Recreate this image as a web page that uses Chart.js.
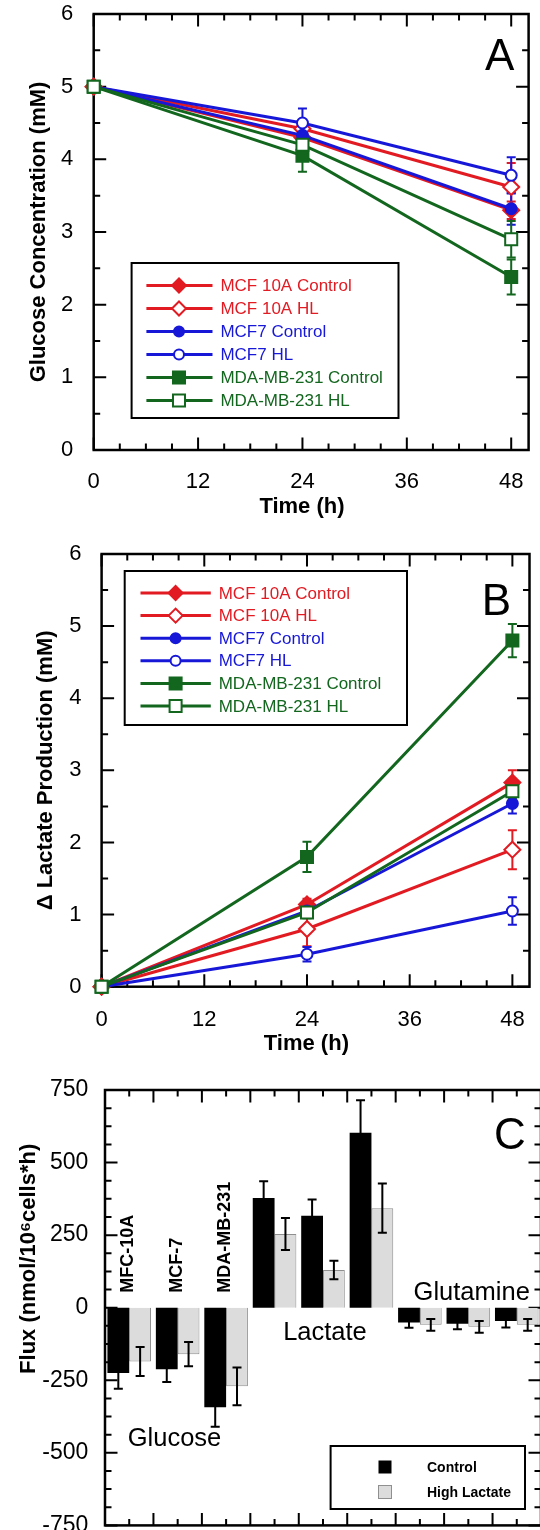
<!DOCTYPE html>
<html>
<head>
<meta charset="utf-8">
<title>Glucose, lactate and flux</title>
<script src="https://cdn.jsdelivr.net/npm/chart.js@4.4.1/dist/chart.umd.min.js"></script>
<style>
  html, body { margin: 0; padding: 0; background: #fff; overflow: hidden; width: 540px; height: 1530px; }
  canvas { position: absolute; left: 0; }
</style>
</head>
<body>
<canvas id="glucoseChart" width="540" height="520" style="top:0"></canvas>
<canvas id="lactateChart" width="540" height="540" style="top:520px"></canvas>
<canvas id="fluxChart" width="546" height="480" style="top:1060px"></canvas>
<script>
// time course shared by panels A and B
const timeHours = [0, 24, 48];
const timeTicks = [0, 12, 24, 36, 48];
const timeTickLabels = ["0", "12", "24", "36", "48"];
const seriesLabels = ["MCF 10A Control", "MCF 10A HL", "MCF7 Control", "MCF7 HL", "MDA-MB-231 Control", "MDA-MB-231 HL"];

// A: glucose concentration (mM)
const glucoseTicks = [0, 1, 2, 3, 4, 5, 6];
const glucoseTickLabels = ["0", "1", "2", "3", "4", "5", "6"];
const glucoseMcf10aControl = [5, 4.30, 3.30];
const glucoseMcf10aHL = [5, 4.42, 3.62];
const glucoseMcf7Control = [5, 4.33, 3.32];
const glucoseMcf7HL = [5, 4.50, 3.78];
const glucoseMdaControl = [5, 4.05, 2.38];
const glucoseMdaHL = [5, 4.20, 2.90];
const glucoseMcf10aControlErr = [0, 0.08, 0.12];
const glucoseMcf10aHLErr = [0, 0.12, 0.33];
const glucoseMcf7ControlErr = [0, 0.08, 0.22];
const glucoseMcf7HLErr = [0, 0.2, 0.25];
const glucoseMdaControlErr = [0, 0.22, 0.24];
const glucoseMdaHLErr = [0, 0.1, 0.25];

// B: delta lactate production (mM)
const lactateTicks = [0, 1, 2, 3, 4, 5, 6];
const lactateTickLabels = ["0", "1", "2", "3", "4", "5", "6"];
const lactateMcf10aControl = [0, 1.14, 2.83];
const lactateMcf10aHL = [0, 0.80, 1.90];
const lactateMcf7Control = [0, 1.05, 2.54];
const lactateMcf7HL = [0, 0.45, 1.05];
const lactateMdaControl = [0, 1.80, 4.80];
const lactateMdaHL = [0, 1.03, 2.71];
const lactateMcf10aControlErr = [0, 0.08, 0.17];
const lactateMcf10aHLErr = [0, 0.24, 0.27];
const lactateMcf7ControlErr = [0, 0.08, 0.14];
const lactateMcf7HLErr = [0, 0.1, 0.19];
const lactateMdaControlErr = [0, 0.21, 0.23];
const lactateMdaHLErr = [0, 0.08, 0.1];

// C: flux (nmol/10^6 cells*h)
const cellLines = ["MFC-10A", "MCF-7", "MDA-MB-231"];
const metabolites = ["Glucose", "Lactate", "Glutamine"];
const fluxCategories = ["Glucose MFC-10A", "Glucose MCF-7", "Glucose MDA-MB-231",
  "Lactate MFC-10A", "Lactate MCF-7", "Lactate MDA-MB-231",
  "Glutamine MFC-10A", "Glutamine MCF-7", "Glutamine MDA-MB-231"];
const fluxTicks = [-750, -500, -250, 0, 250, 500, 750];
const fluxTickLabels = ["-750", "-500", "-250", "0", "250", "500", "750"];
const fluxControl = [-225, -212, -343, 378, 317, 603, -51, -55, -46];
const fluxControlErr = [54, 44, 67, 58, 56, 112, 18, 19, 22];
const fluxHighLactate = [-185, -160, -271, 254, 130, 343, -59, -66, -59];
const fluxHighLactateErr = [50, 42, 65, 55, 32, 85, 20, 20, 20];
const fluxLegend = ["Control", "High Lactate"];

// styles
const RED = "#e21a22", BLUE = "#1717d8", GREEN = "#12661e";
const seriesColors = [RED, RED, BLUE, BLUE, GREEN, GREEN];
const seriesShapes = ["rectRot", "rectRot", "circle", "circle", "rect", "rect"];
const seriesFilled = [true, false, true, false, true, false];
const seriesRadius = [8, 8, 5.5, 5.5, 8.5, 8.5];
const legendRadius = [7, 7, 5, 5, 8.5, 8.5];

Chart.defaults.font.family = '"Liberation Sans", Arial, Helvetica, sans-serif';
Chart.defaults.color = "#000";
Chart.defaults.animation = false;
Chart.defaults.responsive = false;
Chart.defaults.plugins.legend.display = false;
Chart.defaults.plugins.tooltip.enabled = false;

const NB = "\u00a0";

function range(from, to, step) {
  const out = [];
  for (let v = from; v <= to + 1e-9; v += step) out.push(v);
  return out;
}

// fixed axis size, and no extra room for the end labels
function pinSize(s, key, size) {
  s[key] = size;
  s.paddingTop = s.paddingBottom = s.paddingLeft = s.paddingRight = 0;
}

function drawMarker(ctx, shape, x, y, r, color, filled) {
  ctx.beginPath();
  if (shape === "rectRot") {
    ctx.moveTo(x - r, y); ctx.lineTo(x, y - r); ctx.lineTo(x + r, y); ctx.lineTo(x, y + r); ctx.closePath();
  } else if (shape === "circle") {
    ctx.arc(x, y, r, 0, Math.PI * 2);
  } else {
    const h = r * Math.SQRT1_2;
    ctx.rect(x - h, y - h, 2 * h, 2 * h);
  }
  ctx.fillStyle = filled ? color : "#fff";
  ctx.fill();
  ctx.lineWidth = 2;
  ctx.strokeStyle = color;
  ctx.stroke();
}

// box round the plot with inward ticks on all four sides
function frameTicks(t) {
  return {
    id: "frameTicks",
    beforeDatasetsDraw(chart) {
      const { ctx, chartArea: a, scales: { x, y } } = chart;
      const right = t.right || a.right;
      ctx.save();
      ctx.strokeStyle = "#000";
      ctx.lineWidth = 2;
      ctx.beginPath();
      const xt = (v, len) => {
        const px = x.getPixelForValue(v);
        ctx.moveTo(px, a.bottom); ctx.lineTo(px, a.bottom - len);
        ctx.moveTo(px, a.top); ctx.lineTo(px, a.top + len);
      };
      const yt = (v, len) => {
        const py = y.getPixelForValue(v);
        ctx.moveTo(a.left, py); ctx.lineTo(a.left + len, py);
        ctx.moveTo(right, py); ctx.lineTo(right - len, py);
      };
      t.xMinor.forEach(v => xt(v, 6.5));
      t.xMajor.forEach(v => xt(v, 12.5));
      t.yMinor.forEach(v => yt(v, 6.5));
      t.yMajor.forEach(v => yt(v, 12.5));
      ctx.stroke();
      ctx.lineWidth = 2.5;
      ctx.strokeRect(a.left, a.top, right - a.left, a.bottom - a.top);
      ctx.restore();
    }
  };
}

function errorBars(onTop) {
  const draw = chart => {
    const { ctx, scales: { y } } = chart;
    ctx.save();
    ctx.lineWidth = 2;
    chart.data.datasets.forEach((ds, i) => {
      const meta = chart.getDatasetMeta(i);
      ctx.strokeStyle = ds.errorColor;
      ctx.beginPath();
      meta.data.forEach((el, j) => {
        const e = ds.errors[j];
        if (!e) return;
        const d = ds.data[j];
        const v = typeof d === "object" ? d.y : d;
        const top = y.getPixelForValue(v + e), bot = y.getPixelForValue(v - e);
        ctx.moveTo(el.x, top); ctx.lineTo(el.x, bot);
        ctx.moveTo(el.x - 4.5, top); ctx.lineTo(el.x + 4.5, top);
        ctx.moveTo(el.x - 4.5, bot); ctx.lineTo(el.x + 4.5, bot);
      });
      ctx.stroke();
    });
    ctx.restore();
  };
  return onTop ? { id: "errorBars", afterDatasetsDraw: draw } : { id: "errorBars", beforeDatasetsDraw: draw };
}

function panelLetter(letter, dx, dy) {
  return {
    id: "panelLetter",
    afterDraw(chart) {
      const { ctx, chartArea: a } = chart;
      ctx.save();
      ctx.font = '44px "Liberation Sans", Arial, sans-serif';
      ctx.fillStyle = "#000";
      ctx.textAlign = "center";
      ctx.textBaseline = "middle";
      ctx.fillText(letter, a.right + dx, a.top + dy);
      ctx.restore();
    }
  };
}

function lineLegend(b) {
  return {
    id: "lineLegend",
    afterDatasetsDraw(chart) {
      const ctx = chart.ctx;
      ctx.save();
      ctx.fillStyle = "#fff";
      ctx.fillRect(b.left, b.top, b.right - b.left, b.bottom - b.top);
      ctx.strokeStyle = "#000";
      ctx.lineWidth = 2;
      ctx.strokeRect(b.left, b.top, b.right - b.left, b.bottom - b.top);
      ctx.font = '17px "Liberation Sans", Arial, sans-serif';
      ctx.textBaseline = "middle";
      seriesLabels.forEach((label, i) => {
        const yy = b.row0 + i * b.gap;
        ctx.strokeStyle = seriesColors[i];
        ctx.lineWidth = 3;
        ctx.beginPath(); ctx.moveTo(b.x1, yy); ctx.lineTo(b.x2, yy); ctx.stroke();
        drawMarker(ctx, seriesShapes[i], b.mx, yy, legendRadius[i], seriesColors[i], seriesFilled[i]);
        ctx.fillStyle = seriesColors[i];
        ctx.fillText(label, b.tx, yy + 1);
      });
      ctx.restore();
    }
  };
}

function timeDatasets(valueLists, errLists) {
  return valueLists.map((vals, i) => ({
    label: seriesLabels[i],
    data: timeHours.map((t, j) => ({ x: t, y: vals[j] })),
    errors: errLists[i],
    errorColor: seriesColors[i],
    borderColor: seriesColors[i],
    borderWidth: 3,
    tension: 0,
    pointStyle: seriesShapes[i],
    pointRadius: seriesRadius[i],
    pointBorderWidth: 2,
    pointBorderColor: seriesColors[i],
    pointBackgroundColor: seriesFilled[i] ? seriesColors[i] : "#fff",
    order: valueLists.length - i,
    clip: false
  }));
}

function timeChart(id, o) {
  return new Chart(document.getElementById(id), {
    type: "line",
    data: { datasets: timeDatasets(o.values, o.errors) },
    options: {
      layout: { padding: { left: 0, top: o.top, right: o.right, bottom: o.bottomPad } },
      scales: {
        x: {
          type: "linear", min: 0, max: 50,
          afterBuildTicks: s => { s.ticks = timeTicks.map(v => ({ value: v })); },
          afterFit: s => pinSize(s, "height", o.xHeight),
          grid: { display: false }, border: { display: false },
          ticks: { padding: o.xPad, font: { size: 22 }, maxRotation: 0, callback: (v, i) => timeTickLabels[i] },
          title: { display: true, text: "Time (h)" + NB + NB + NB, font: { size: 22, weight: "bold" }, padding: { top: 0, bottom: 0 } }
        },
        y: {
          type: "linear", min: 0, max: 6,
          afterBuildTicks: s => { s.ticks = o.yTicks.map(v => ({ value: v })); },
          afterFit: s => pinSize(s, "width", o.left),
          grid: { display: false }, border: { display: false },
          ticks: { padding: o.yPad, font: { size: 22 }, callback: (v, i) => o.yTickLabels[i] },
          title: { display: true, text: o.yTitle, font: { size: 22, weight: "bold" }, padding: { top: o.yTitlePad, bottom: 0 } }
        }
      }
    },
    plugins: [
      frameTicks({ xMajor: timeTicks, xMinor: range(0, 50, 3), yMajor: o.yTicks, yMinor: range(0.5, 6, 1) }),
      errorBars(false),
      lineLegend(o.legend),
      panelLetter(o.letter, o.letterDx, o.letterDy)
    ]
  });
}

timeChart("glucoseChart", {
  values: [glucoseMcf10aControl, glucoseMcf10aHL, glucoseMcf7Control, glucoseMcf7HL, glucoseMdaControl, glucoseMdaHL],
  errors: [glucoseMcf10aControlErr, glucoseMcf10aHLErr, glucoseMcf7ControlErr, glucoseMcf7HLErr, glucoseMdaControlErr, glucoseMdaHLErr],
  yTicks: glucoseTicks, yTickLabels: glucoseTickLabels,
  yTitle: "Glucose Concentration (mM)",
  top: 14, right: 11.4, bottomPad: 0, left: 93.7, xHeight: 70,
  xPad: 11, yPad: 12.5, yTitlePad: 26,
  letter: "A", letterDx: -29, letterDy: 44,
  legend: { left: 131.6, top: 263, right: 398.5, bottom: 418, row0: 285.5, gap: 23, x1: 146.4, x2: 212.5, mx: 179, tx: 220.4 }
});

timeChart("lactateChart", {
  values: [lactateMcf10aControl, lactateMcf10aHL, lactateMcf7Control, lactateMcf7HL, lactateMdaControl, lactateMdaHL],
  errors: [lactateMcf10aControlErr, lactateMcf10aHLErr, lactateMcf7ControlErr, lactateMcf7HLErr, lactateMdaControlErr, lactateMdaHLErr],
  yTicks: lactateTicks, yTickLabels: lactateTickLabels,
  yTitle: "\u0394 Lactate Production (mM)",
  top: 34, right: 4.4, bottomPad: 3, left: 101.6, xHeight: 70.3,
  xPad: 12, yPad: 12, yTitlePad: 33,
  letter: "B", letterDx: -33, letterDy: 49,
  legend: { left: 124.7, top: 51, right: 407, bottom: 205, row0: 73, gap: 22.6, x1: 140.5, x2: 210.8, mx: 175.6, tx: 218.7 }
});

// C: grouped bars
const fluxLetterPlugin = panelLetter("C", -31, 47);
const fluxNotes = {
  id: "fluxNotes",
  afterDraw(chart) {
    const { ctx, scales: { x, y } } = chart;
    const zero = y.getPixelForValue(0);
    ctx.save();
    ctx.fillStyle = "#000";
    // cell line names, vertical
    ctx.font = 'bold 18px "Liberation Sans", Arial, sans-serif';
    ctx.textAlign = "left";
    ctx.textBaseline = "middle";
    cellLines.forEach((name, i) => {
      ctx.save();
      ctx.translate(x.getPixelForValue(i) - 1, zero - 15);
      ctx.rotate(-Math.PI / 2);
      ctx.fillText(name, 0, 0);
      ctx.restore();
    });
    // metabolite names
    ctx.font = '25.5px "Liberation Sans", Arial, sans-serif';
    ctx.textBaseline = "alphabetic";
    const spots = [[0, -1.5, -476], [3, 8.6, -111], [6, -6.3, 26]];
    metabolites.forEach((name, i) => {
      const [idx, dx, v] = spots[i];
      ctx.fillText(name, x.getPixelForValue(idx) + dx, y.getPixelForValue(v));
    });
    // legend
    const b = { left: 330.6, top: 386, right: 525, bottom: 449 };
    ctx.fillStyle = "#fff";
    ctx.fillRect(b.left, b.top, b.right - b.left, b.bottom - b.top);
    ctx.strokeStyle = "#000";
    ctx.lineWidth = 2;
    ctx.strokeRect(b.left, b.top, b.right - b.left, b.bottom - b.top);
    ctx.font = 'bold 14px "Liberation Sans", Arial, sans-serif';
    ctx.textBaseline = "middle";
    chart.data.datasets.forEach((ds, i) => {
      const yy = 407 + i * 25;
      ctx.fillStyle = ds.backgroundColor;
      ctx.fillRect(378.5, yy - 6.5, 13, 13);
      if (ds.borderWidth) {
        ctx.strokeStyle = ds.borderColor;
        ctx.lineWidth = 1;
        ctx.strokeRect(378.5, yy - 6.5, 13, 13);
      }
      ctx.fillStyle = "#000";
      ctx.fillText(fluxLegend[i], 427, yy + 1);
    });
    ctx.restore();
  }
};

new Chart(document.getElementById("fluxChart"), {
  type: "bar",
  data: {
    labels: fluxCategories,
    datasets: [
      { label: fluxLegend[0], data: fluxControl, errors: fluxControlErr, errorColor: "#000",
        backgroundColor: "#000", borderWidth: 0, categoryPercentage: 0.9, barPercentage: 1 },
      { label: fluxLegend[1], data: fluxHighLactate, errors: fluxHighLactateErr, errorColor: "#000",
        backgroundColor: "#dcdcdc", borderColor: "#8f8f8f", borderWidth: 1, categoryPercentage: 0.9, barPercentage: 1 }
    ]
  },
  options: {
    layout: { padding: { left: 0, top: 30, right: 5, bottom: 0 } },
    scales: {
      x: {
        type: "category",
        afterFit: s => pinSize(s, "height", 14.6),
        grid: { display: false }, border: { display: false },
        ticks: { display: false }
      },
      y: {
        type: "linear", min: -750, max: 750,
        afterBuildTicks: s => { s.ticks = fluxTicks.map(v => ({ value: v })); },
        afterFit: s => pinSize(s, "width", 105),
        grid: { display: false }, border: { display: false },
        ticks: { padding: 8.6, font: { size: 23 }, callback: (v, i) => fluxTickLabels[i] },
        title: { display: true, text: NB.repeat(16) + "Flux (nmol/10\u2076cells*h)", font: { size: 22, weight: "bold" }, padding: { top: 16, bottom: 0 } }
      }
    }
  },
  plugins: [
    frameTicks({ xMajor: range(-0.5, 8.5, 1), xMinor: range(0, 8, 1), yMajor: fluxTicks, yMinor: range(-750, 750, 62.5) }),
    errorBars(true),
    fluxNotes,
    fluxLetterPlugin
  ]
});
</script>
</body>
</html>
